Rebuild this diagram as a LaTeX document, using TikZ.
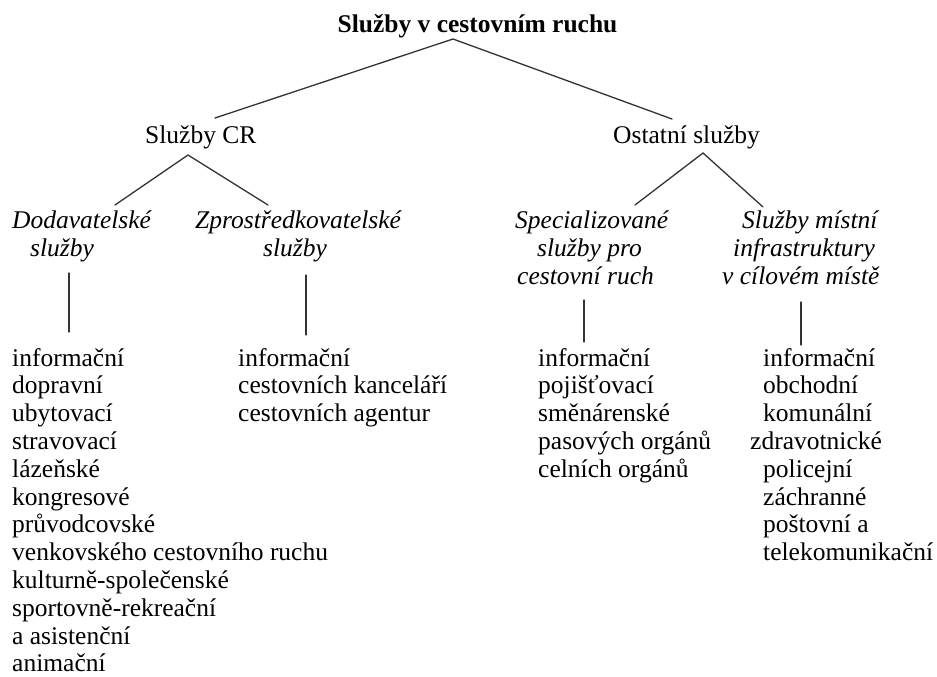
\documentclass[tikz,border=0pt]{standalone}
\usepackage{fontspec}
\setmainfont{Liberation Serif}
\tikzset{
  txt/.style={inner sep=0pt, anchor=base west, font=\fontsize{25.5}{28}\selectfont, text=black},
  ttl/.style={inner sep=0pt, anchor=base, font=\fontsize{25.5}{28}\selectfont\bfseries, text=black},
  itx/.style={txt, font=\fontsize{25.5}{28}\selectfont\itshape},
  conn/.style={line width=1.3pt, draw=black!80, line cap=round}
}
\begin{document}
\begin{tikzpicture}[x=1pt,y=-1pt]
\useasboundingbox (0,0) rectangle (937,677);
% title
\node[ttl] (title) at (477.5,33) {Služby v cestovním ruchu};
% level 2
\node[txt] (cr) at (145,143) {Služby CR};
\node[txt] (ost) at (613,143) {Ostatní služby};
% level 3
\node[itx] (dod1) at (12,228) {Dodavatelské};
\node[itx] (dod2) at (30,256) {služby};
\node[itx] (zpr1) at (195,228) {Zprostředkovatelské};
\node[itx] (zpr2) at (263,256) {služby};
\node[itx] (spe1) at (515,228) {Specializované};
\node[itx] (spe2) at (537,256) {služby pro};
\node[itx] (spe3) at (517,284) {cestovní ruch};
\node[itx] (mis1) at (742,228) {Služby místní};
\node[itx] (mis2) at (733,256) {infrastruktury};
\node[itx] (mis3) at (722,284) {v cílovém místě};
% connector coordinates
\coordinate (apT) at (453,39);
\coordinate (crTop) at (215,118);
\coordinate (ostTop) at (672,119);
\coordinate (apCR) at (188,155);
\coordinate (dodTop) at (115,205);
\coordinate (zprTop) at (268,205);
\coordinate (apO) at (703,153);
\coordinate (speTop) at (635,205);
\coordinate (misTop) at (763,207);
\coordinate (v1a) at (69,273);  \coordinate (v1b) at (69,332);
\coordinate (v2a) at (306,275); \coordinate (v2b) at (306,335);
\coordinate (v3a) at (584,300); \coordinate (v3b) at (584,342);
\coordinate (v4a) at (801,302); \coordinate (v4b) at (801,345);
\draw[conn] (crTop) -- (apT) -- (ostTop);
\draw[conn] (dodTop) -- (apCR) -- (zprTop);
\draw[conn] (speTop) -- (apO) -- (misTop);
\draw[conn] (v1a) -- (v1b);
\draw[conn] (v2a) -- (v2b);
\draw[conn] (v3a) -- (v3b);
\draw[conn] (v4a) -- (v4b);
% lists
\foreach \t [count=\i] in {informační,dopravní,ubytovací,stravovací,lázeňské,kongresové,průvodcovské,venkovského cestovního ruchu,kulturně-společenské,sportovně-rekreační,a asistenční,animační}
  \node[txt] (la-\i) at (12,{366+(\i-1)*27.8}) {\t};
\foreach \t [count=\i] in {informační,cestovních kanceláří,cestovních agentur}
  \node[txt] (lb-\i) at (238,{366+(\i-1)*27.8}) {\t};
\foreach \t [count=\i] in {informační,pojišťovací,směnárenské,pasových orgánů,celních orgánů}
  \node[txt] (lc-\i) at (538,{366+(\i-1)*27.8}) {\t};
\foreach \t/\xx [count=\i] in {informační/763,obchodní/763,komunální/763,zdravotnické/750,policejní/763,záchranné/763,poštovní a/763,telekomunikační/763}
  \node[txt] (ld-\i) at (\xx,{366+(\i-1)*27.8}) {\t};
\end{tikzpicture}
\end{document}
